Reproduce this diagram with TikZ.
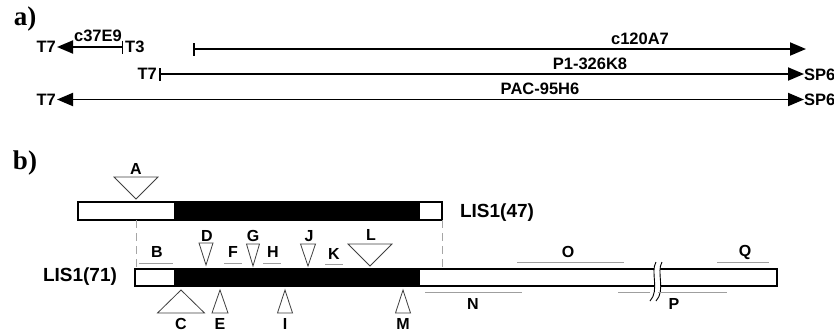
\documentclass[tikz,border=0pt]{standalone}
\usepackage{fontspec}
\setmainfont{Liberation Sans}
\newfontfamily\partfont{Liberation Serif}
\usetikzlibrary{arrows.meta}
\begin{document}
\begin{tikzpicture}[x=1pt,y=-1pt,
  lbl/.style={font=\fontsize{16.5}{18}\selectfont\bfseries, inner sep=0pt},
  ltr/.style={font=\fontsize{16}{18}\selectfont\bfseries, inner sep=0pt},
  biglbl/.style={font=\fontsize{19}{21}\selectfont\bfseries, inner sep=0pt},
  partlbl/.style={font=\partfont\fontsize{27}{29}\selectfont\bfseries, inner sep=0pt},
  clone/.style={line width=1.9pt},
  barL/.style={{Bar[width=13pt,line width=1.5pt]}-{Triangle[length=16pt,width=13pt]}},
  bothtip/.style={{Triangle[length=16pt,width=13pt]}-{Triangle[length=16pt,width=13pt]}},
  gene/.style={draw=black, line width=1.3pt, fill=white},
  exon/.style={fill=black},
  guide/.style={draw=gray!70, line width=0.9pt, dash pattern=on 8pt off 5pt},
  tribox/.style={draw=black!75, line width=0.8pt, fill=white},
  span/.style={draw=gray!75, line width=1pt},
  pics/dtri/.style={code={\draw[tribox] (-#1,-22) -- (#1,-22) -- (0,0) -- cycle;}},
  pics/utri/.style={code={\draw[tribox] (-#1,23) -- (#1,23) -- (0,0) -- cycle;}}
]
\useasboundingbox (0,0) rectangle (834,333);

% ---------- a) ----------
\node[partlbl] (pa) at (25,19) {a)};

\coordinate (c37L) at (57,47);
\coordinate (c37R) at (123,47);
\draw[clone, barL] (c37R) -- (c37L);
\node[lbl, anchor=east] (t7a) at (56,47) {T7};
\node[lbl, anchor=west] (t3) at (125,47) {T3};
\node[lbl, anchor=base] (c37) at (98,41.5) {c37E9};

\coordinate (c120L) at (193,49);
\coordinate (c120R) at (806,49);
\draw[clone, barL] (c120L) -- (c120R);
\node[lbl, anchor=base] (c120) at (640,44) {c120A7};

\coordinate (p1L) at (159,74);
\coordinate (p1R) at (804,74);
\draw[clone, barL] (p1L) -- (p1R);
\node[lbl, anchor=east] (t7b) at (157,74) {T7};
\node[lbl, anchor=west] (sp6a) at (804,75) {SP6};
\node[lbl, anchor=base] (p1) at (590,69.5) {P1-326K8};

\coordinate (pacL) at (57,99.5);
\coordinate (pacR) at (804,99.5);
\draw[clone, bothtip] (pacL) -- (pacR);
\node[lbl, anchor=east] (t7c) at (56,99.5) {T7};
\node[lbl, anchor=west] (sp6b) at (804,100) {SP6};
\node[lbl, anchor=base] (pac) at (540,94.5) {PAC-95H6};

% ---------- b) ----------
\node[partlbl] (pb) at (25,163) {b)};

% LIS1(47)
\draw[gene] (78,202) rectangle (442,220);
\fill[exon] (174,202) rectangle (420,220);
\draw[line width=1.3pt] (78,202) rectangle (442,220);
\node[biglbl] (l47) at (497,213) {LIS1(47)};

% LIS1(71)
\draw[gene] (135,269) rectangle (777,286);
\fill[exon] (174,269) rectangle (420,286);
\draw[line width=1.3pt] (135,269) rectangle (777,286);
\node[biglbl] (l71) at (80,277) {LIS1(71)};

% dashed guides
\coordinate (g1t) at (136,220); \coordinate (g1b) at (136,269);
\coordinate (g2t) at (442,220); \coordinate (g2b) at (442,269);
\draw[guide] (g1t) -- (g1b);
\draw[guide] (g2t) -- (g2b);

% break marks
\fill[white] (656,262) .. controls (650,272) and (660,290) .. (650,301)
  -- (656,301) .. controls (666,290) and (656,272) .. (662,262) -- cycle;
\draw[line width=0.9pt] (656,262) .. controls (650,272) and (660,290) .. (650,301);
\draw[line width=0.9pt] (662,262) .. controls (656,272) and (666,290) .. (656,301);

% down triangles (insertions above)
\pic at (136,199) {dtri=22};   \node[ltr] (A) at (136,169) {A};
\pic at (206,265) {dtri=7};    \node[ltr] (D) at (207,236) {D};
\pic at (253,266) {dtri=6.5};  \node[ltr] (G) at (253,236) {G};
\pic at (308,266) {dtri=7.5};  \node[ltr] (J) at (309,236) {J};
\pic at (370,266) {dtri=22};   \node[ltr] (L) at (371,235) {L};

% up triangles
\pic at (181,290) {utri=23.5}; \node[ltr] (C) at (181,324) {C};
\pic at (220,290) {utri=8};    \node[ltr] (E) at (220,324) {E};
\pic at (285,290) {utri=7.5};  \node[ltr] (I) at (285,324) {I};
\pic at (403,290) {utri=7.5};  \node[ltr] (M) at (403,324) {M};

% spans
\draw[span] (139,263) -- (173,263); \node[ltr] (B) at (157,252) {B};
\draw[span] (224,263) -- (242,263); \node[ltr] (F) at (233,252) {F};
\draw[span] (263,263) -- (281,263); \node[ltr] (H) at (273,252) {H};
\draw[span] (325,264) -- (343,264); \node[ltr] (K) at (334,254) {K};
\draw[span] (517,262) -- (624,262); \node[ltr] (O) at (568,252) {O};
\draw[span] (717,262) -- (769,262); \node[ltr] (Q) at (745,252) {Q};
\draw[span] (425,292) -- (522,292); \node[ltr] (N) at (473,304) {N};
\draw[span] (618,292) -- (650,292); \draw[span] (658,292) -- (727,292);
\node[ltr] (P) at (674,304) {P};
\end{tikzpicture}
\end{document}
